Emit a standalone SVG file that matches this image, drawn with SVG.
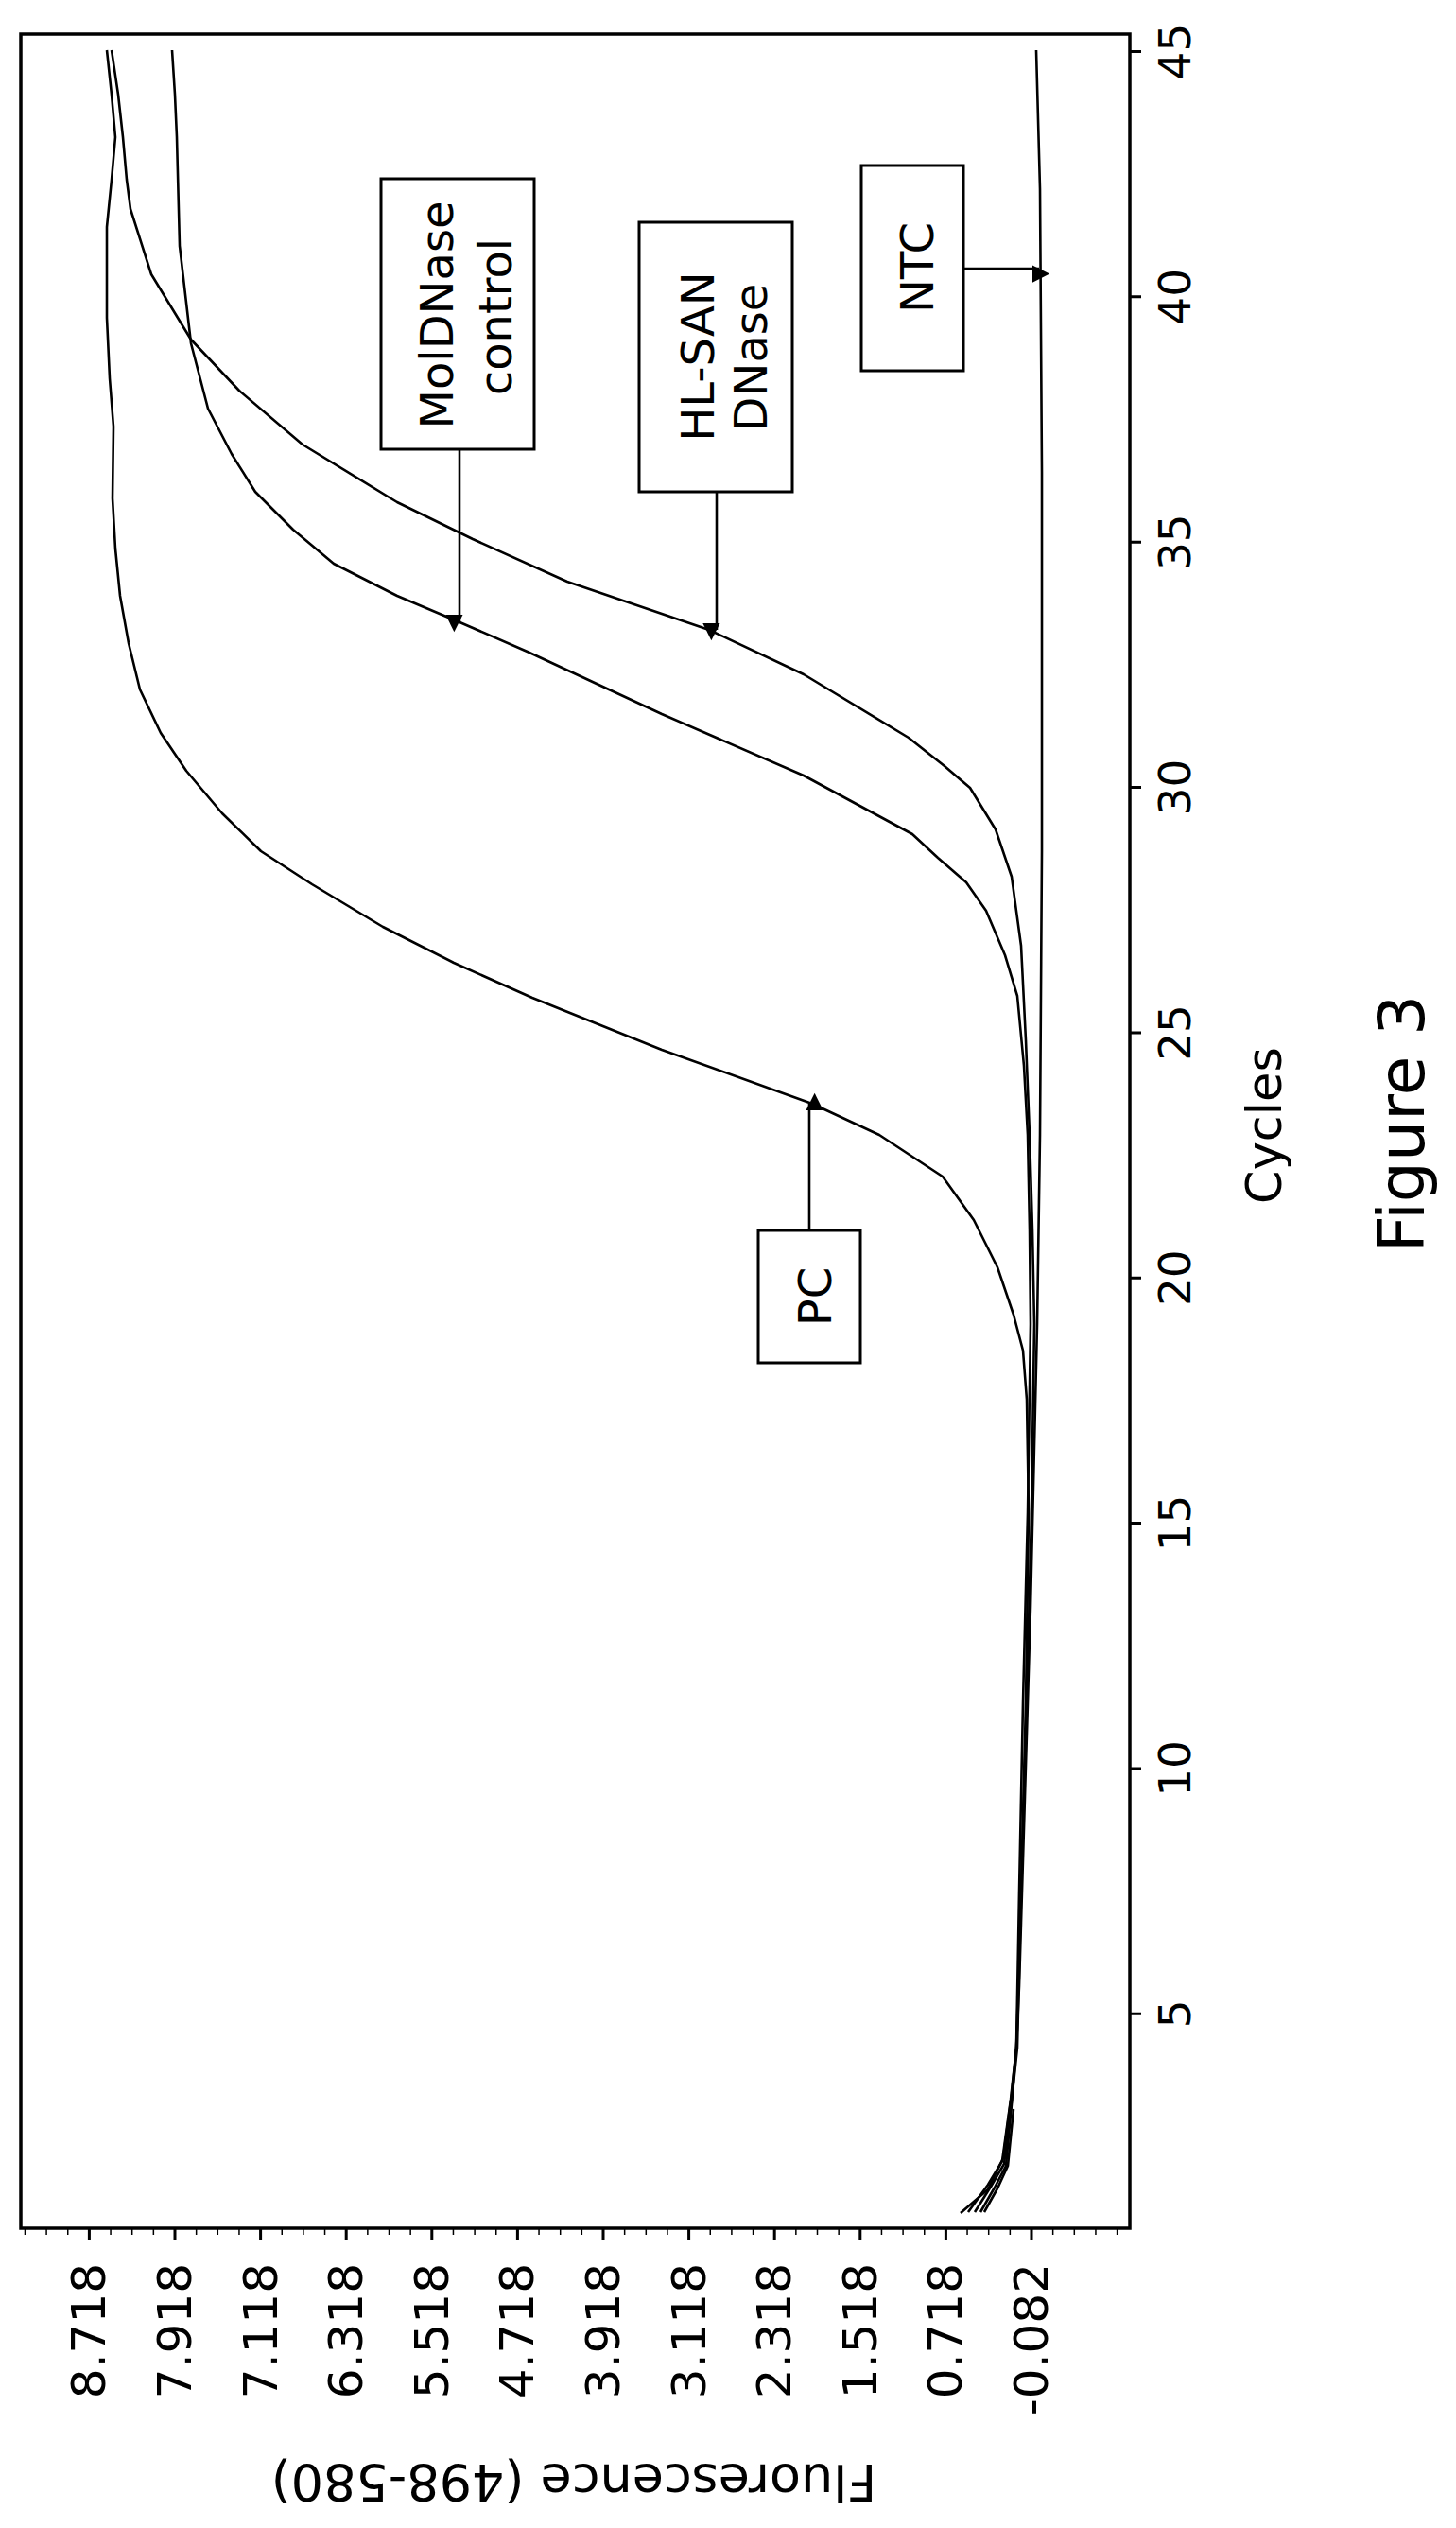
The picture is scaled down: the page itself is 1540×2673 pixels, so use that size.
<svg xmlns="http://www.w3.org/2000/svg" width="1540" height="2673" viewBox="0 0 1540 2673">
<style>
text{font-family:"DejaVu Sans","Verdana",sans-serif;fill:#000}
.tk{font-size:47px}
.fl{font-size:50px}
.bx{font-size:48px}
.crv{fill:none;stroke:#000;stroke-width:2.6;stroke-linejoin:round}
.box{fill:#fff;stroke:#000;stroke-width:3}
.ax{fill:none;stroke:#000;stroke-width:3.5}
.arr{stroke:#000;stroke-width:2.6;marker-end:url(#ah)}
</style>
<defs>
<marker id="ah" viewBox="0 0 10 10" refX="10" refY="5" markerWidth="9" markerHeight="7" markerUnits="userSpaceOnUse" orient="auto" style="overflow:visible">
<path d="M0,0 L10,5 L0,10 z" transform="scale(2.6)" fill="#000"/>
</marker>
</defs>
<rect x="0" y="0" width="1540" height="2673" fill="#fff"/>
<g id="axes">
<rect class="ax" x="22" y="36" width="1173" height="2320"/>
<path stroke="#000" stroke-width="3" d="M1195,54.5h12M1195,313.8h12M1195,573.2h12M1195,832.5h12M1195,1091.9h12M1195,1351.2h12M1195,1610.6h12M1195,1869.9h12M1195,2129.3h12"/>
<path stroke="#000" stroke-width="3" d="M1091,2356v12M1000.4,2356v12M909.8,2356v12M819.2,2356v12M728.6,2356v12M638,2356v12M547.4,2356v12M456.8,2356v12M366.2,2356v12M275.6,2356v12M185,2356v12M94.4,2356v12"/>
<line x1="1182.35" y1="2359.5" x2="25" y2="2359.5" stroke="#000" stroke-width="7" stroke-dasharray="1.5 21.15"/>
<g class="tk" text-anchor="middle">
<text x="1259" y="54.5" transform="rotate(-90 1259 54.5)">45</text>
<text x="1259" y="313.8" transform="rotate(-90 1259 313.8)">40</text>
<text x="1259" y="573.2" transform="rotate(-90 1259 573.2)">35</text>
<text x="1259" y="832.5" transform="rotate(-90 1259 832.5)">30</text>
<text x="1259" y="1091.9" transform="rotate(-90 1259 1091.9)">25</text>
<text x="1259" y="1351.2" transform="rotate(-90 1259 1351.2)">20</text>
<text x="1259" y="1610.6" transform="rotate(-90 1259 1610.6)">15</text>
<text x="1259" y="1869.9" transform="rotate(-90 1259 1869.9)">10</text>
<text x="1259" y="2129.3" transform="rotate(-90 1259 2129.3)">5</text>
</g>
<g class="fl" text-anchor="end">
<text x="1108" y="2393" transform="rotate(-90 1108 2393)">-0.082</text>
<text x="1017.4" y="2393" transform="rotate(-90 1017.4 2393)">0.718</text>
<text x="926.8" y="2393" transform="rotate(-90 926.8 2393)">1.518</text>
<text x="836.2" y="2393" transform="rotate(-90 836.2 2393)">2.318</text>
<text x="745.6" y="2393" transform="rotate(-90 745.6 2393)">3.118</text>
<text x="655" y="2393" transform="rotate(-90 655 2393)">3.918</text>
<text x="564.4" y="2393" transform="rotate(-90 564.4 2393)">4.718</text>
<text x="473.8" y="2393" transform="rotate(-90 473.8 2393)">5.518</text>
<text x="383.2" y="2393" transform="rotate(-90 383.2 2393)">6.318</text>
<text x="292.6" y="2393" transform="rotate(-90 292.6 2393)">7.118</text>
<text x="202" y="2393" transform="rotate(-90 202 2393)">7.918</text>
<text x="111.4" y="2393" transform="rotate(-90 111.4 2393)">8.718</text>
</g>
<text x="607" y="2606" font-size="54" text-anchor="middle" transform="rotate(180 607 2606)">Fluorescence (498-580)</text>
<text x="1355" y="1190" font-size="51" text-anchor="middle" transform="rotate(-90 1355 1190)">Cycles</text>
<text x="1506" y="1188" font-size="68" text-anchor="middle" transform="rotate(-90 1506 1188)">Figure 3</text>
</g>
<g id="curves">
<polyline id="PC-curve" class="crv" points="113,53 118,100 122,145 118,190 113,240 113,336 116,400 120,451 119,527 122,580 127,630 136,680 148,729 170,775 197,815 235,860 276,900 330,935 405,980 480,1018 563,1055 700,1110 859,1167 930,1200 997,1244 1030,1290 1055,1340 1072,1390 1082,1428 1086,1480 1088,1600 1085,1800 1080,2000 1075,2165 1070,2214 1061,2282 1045,2315 1016,2340"/>
<polyline id="Mol-curve" class="crv" points="182,53 185,100 187,145 190,260 202,363 220,432 245,480 270,520 310,560 353,596 420,630 484,657 560,690 700,755 850,820 965,882 992,907 1022,933 1043,963 1063,1010 1076,1053 1083,1127 1087,1200 1089,1300 1090,1400 1087,1600 1082,1800 1078,2000 1075,2165 1069,2220 1060,2285 1045,2310 1024,2339"/>
<polyline id="HL-curve" class="crv" points="118,53 125,100 130,145 134,190 138,221 160,290 202,359 253,413 320,470 420,531 500,570 600,615 750,666 850,713 961,780 999,810 1026,833 1053,877 1070,927 1080,1000 1085,1100 1089,1200 1092,1300 1094,1400 1091,1600 1086,1800 1080,2000 1076,2165 1070,2222 1062,2288 1048,2312 1031,2339"/>
<polyline id="NTC-curve" class="crv" points="1096,53 1100,200 1102,500 1102,900 1100,1200 1097,1400 1090,1700 1084,1900 1078,2100 1075,2165 1070,2225 1064,2290 1052,2313 1037,2339"/>
<polyline class="crv" points="1041,2339 1055,2314 1066,2290 1072,2230"/>
</g>
<g id="connectors">
<line class="arr" x1="486" y1="475" x2="486" y2="657"/>
<line class="arr" x1="758" y1="520" x2="758" y2="666"/>
<line class="arr" x1="1019" y1="284" x2="1099" y2="284"/>
<line class="arr" x1="856" y1="1301" x2="856" y2="1167"/>
</g>
<g id="node-mol">
<rect class="box" x="403" y="189" width="162" height="286"/>
<text class="bx" x="479" y="333" text-anchor="middle" transform="rotate(-90 479 333)">MolDNase</text>
<text class="bx" x="541" y="335" text-anchor="middle" transform="rotate(-90 541 335)">control</text>
</g>
<g id="node-hl">
<rect class="box" x="676" y="235" width="162" height="285"/>
<text class="bx" x="755" y="377" text-anchor="middle" transform="rotate(-90 755 377)">HL-SAN</text>
<text class="bx" x="811" y="378" text-anchor="middle" transform="rotate(-90 811 378)">DNase</text>
</g>
<g id="node-ntc">
<rect class="box" x="911" y="175" width="108" height="217"/>
<text class="bx" x="987" y="283" text-anchor="middle" transform="rotate(-90 987 283)">NTC</text>
</g>
<g id="node-pc">
<rect class="box" x="802" y="1301" width="108" height="140"/>
<text class="bx" x="879" y="1371" text-anchor="middle" transform="rotate(-90 879 1371)">PC</text>
</g>
</svg>
